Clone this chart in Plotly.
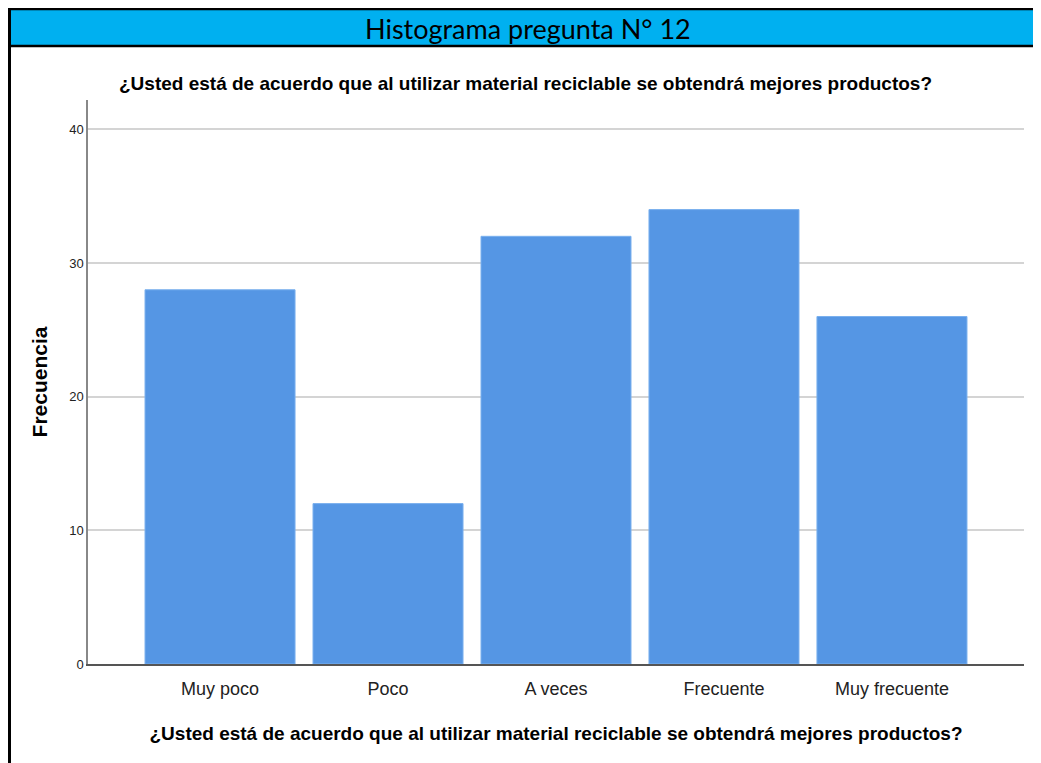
import plotly.graph_objects as go

categorias = ["Muy poco", "Poco", "A veces", "Frecuente", "Muy frecuente"]
frecuencias = [28, 12, 32, 34, 26]
y_ticks = [0, 10, 20, 30, 40]

pregunta = "¿Usted está de acuerdo que al utilizar material reciclable se obtendrá mejores productos?"
sans = "Liberation Sans, Arial, sans-serif"

# the page adds an 8px body margin, so work in page pixels and shift by it
OFF = 8
W, H = 1041 - OFF, 763 - OFF
# plot area in page pixels: x 88..1024, y 100..664
L, R, T, B = 88 - OFF, 1041 - 1024, 100 - OFF, 763 - 664
pw, ph = W - L - R, H - T - B


def px(x):
    return (x - OFF - L) / pw


def py(y):
    return (H - B - (y - OFF)) / ph


fig = go.Figure(go.Bar(
    x=categorias,
    y=frecuencias,
    marker=dict(color="#5596E4", line=dict(color="#7AB0EE", width=1)),
    hoverinfo="x+y",
))

fig.update_layout(
    width=W, height=H,
    margin=dict(l=L, r=R, t=T, b=B),
    paper_bgcolor="white",
    plot_bgcolor="white",
    bargap=0.107,
    showlegend=False,
    xaxis=dict(
        range=[-0.786, 4.786],
        showline=True, linecolor="#555555", linewidth=1.5,
        ticks="", showgrid=False,
        ticklabelstandoff=8,
        tickfont=dict(family=sans, size=18, color="#222222"),
        title=dict(text="<b>" + pregunta + "</b>", standoff=28,
                   font=dict(family=sans, size=19, color="black")),
    ),
    yaxis=dict(
        range=[0, 42.2],
        tickvals=y_ticks,
        showline=True, linecolor="#888888", linewidth=1.5,
        showgrid=True, gridcolor="#D4D4D4", gridwidth=1.5,
        zeroline=False,
        ticks="", ticklen=0,
        tickfont=dict(family=sans, size=13, color="#222222"),
        title=dict(text="<b>Frecuencia</b>", standoff=16,
                   font=dict(family=sans, size=21, color="black")),
    ),
)

# header band and frame
fig.add_shape(type="rect", xref="paper", yref="paper",
              x0=px(9), x1=px(1060), y0=py(46), y1=py(9),
              fillcolor="#00B0F0", line=dict(width=0), layer="below")
for yy in (9, 46):
    fig.add_shape(type="line", xref="paper", yref="paper",
                  x0=px(8), x1=px(1060), y0=py(yy), y1=py(yy),
                  line=dict(color="black", width=2.5))
fig.add_shape(type="line", xref="paper", yref="paper",
              x0=px(9.5), x1=px(9.5), y0=py(8), y1=py(775),
              line=dict(color="black", width=3))

fig.add_annotation(xref="paper", yref="paper", x=px(528), y=py(28),
                   xanchor="center", yanchor="middle",
                   text="Histograma pregunta N° 12", showarrow=False,
                   font=dict(family="Lato, Carlito, Calibri, sans-serif", size=27, color="black"))
fig.add_annotation(xref="paper", yref="paper", x=px(525), y=py(84),
                   xanchor="center", yanchor="middle",
                   text="<b>" + pregunta + "</b>", showarrow=False,
                   font=dict(family=sans, size=19, color="black"))

fig.write_html("out.html")
